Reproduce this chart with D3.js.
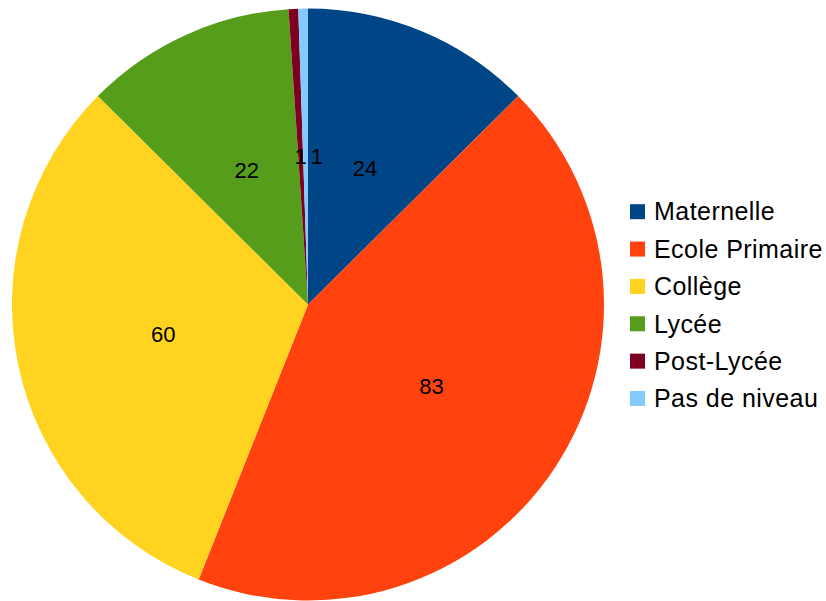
<!DOCTYPE html>
<html><head><meta charset="utf-8">
<script src="https://cdn.jsdelivr.net/npm/d3@7"></script>
<style>body{margin:0;background:#fff}svg{display:block}</style>
</head><body>
<script>
const categories = ["Maternelle","Ecole Primaire","Collège","Lycée","Post-Lycée","Pas de niveau"];
const values = [24,83,60,22,1,1];
const colors = ["#004586","#ff420e","#ffd320","#579d1c","#7e0021","#83caff"];

const W=826,H=601;
const svg=d3.select("body").append("svg").attr("width",W).attr("height",H);
const cx=308, cy=304.5, R=296;
const data=categories.map((c,i)=>({c,v:values[i],col:colors[i]}));
const pie=d3.pie().value(d=>d.v).sort(null);
const arcs=pie(data);
const arc=d3.arc().innerRadius(0).outerRadius(R);
const labelArc=d3.arc().innerRadius(R).outerRadius(0);
const g=svg.append("g").attr("transform",`translate(${cx},${cy})`);
g.selectAll("path").data(arcs).join("path").attr("d",arc).attr("fill",d=>d.data.col);

// labels at half radius, with simple overlap avoidance
const fs=22;
let prevRight=-Infinity, prevY=null;
const lab=g.append("g").attr("font-family","Liberation Sans, Arial, sans-serif").attr("font-size",fs).attr("fill","#000");
arcs.forEach((d,i)=>{
  const [x,y]=labelArc.centroid(d);
  const txt=String(d.data.v);
  const w=txt.length*fs*0.556;
  let left=x-w/2;
  if(prevY!==null && Math.abs(y-prevY)<fs && left<prevRight+2){ left=prevRight+4; }
  lab.append("text").attr("x",left).attr("y",y).attr("dy","0.35em").text(txt);
  prevRight=left+w; prevY=y;
});

const leg=svg.append("g").attr("font-family","Liberation Sans, Arial, sans-serif").attr("font-size",25).attr("letter-spacing",0.45);
data.forEach((d,i)=>{
  const y=211.7+i*37.36;
  leg.append("rect").attr("x",630).attr("y",y-7.5).attr("width",15).attr("height",15).attr("fill",d.col);
  leg.append("text").attr("x",654).attr("y",y).attr("dy","0.35em").text(d.c);
});
</script>
</body></html>
